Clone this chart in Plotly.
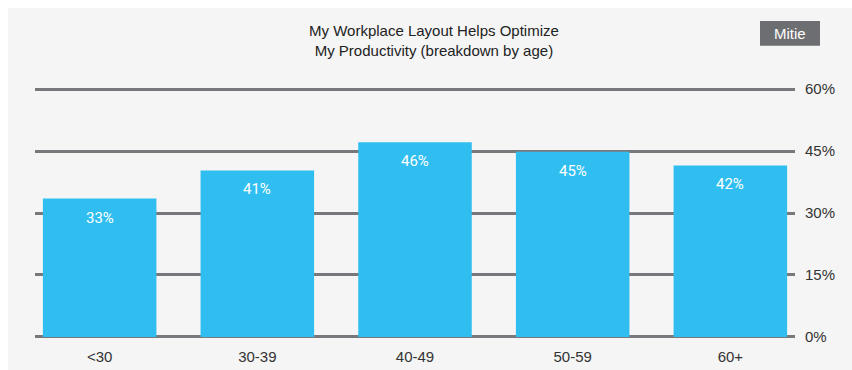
import plotly.graph_objects as go

categories = ["<30", "30-39", "40-49", "50-59", "60+"]
values = [33.5, 40.3, 47.1, 44.8, 41.5]
value_labels = ["33%", "41%", "46%", "45%", "42%"]
y_ticks = [0, 15, 30, 45, 60]
y_tick_labels = ["0%", "15%", "30%", "45%", "60%"]
title_text = "My Workplace Layout Helps Optimize<br>My Productivity (breakdown by age)"
badge_text = "Mitie"

W, H = 852, 370
ML, MR, MT, MB = 35, 57, 87, 31
PW, PH = W - ML - MR, H - MT - MB

def px(x):
    return (x - ML) / PW

def py(y):
    return (H - MB - y) / PH

BAR = "#30bef0"
GRID = "#77787b"
BG = "#f5f5f5"
FONT = "Liberation Sans"

fig = go.Figure()
fig.add_trace(go.Bar(x=categories, y=values, marker=dict(color=BAR, line=dict(width=0)),
                     width=0.72, hoverinfo="skip"))

annotations = []
for c, v, t in zip(categories, values, value_labels):
    annotations.append(dict(x=c, y=v, xref="x", yref="y", text=t, showarrow=False,
                            yanchor="top", yshift=-8,
                            font=dict(family="Roboto", size=15, color="white")))

annotations.append(dict(x=px(434), y=py(41), xref="paper", yref="paper", text=title_text,
                        showarrow=False, xanchor="center", yanchor="middle",
                        font=dict(family=FONT, size=15, color="#222222")))
annotations.append(dict(x=px(790), y=py(33.5), xref="paper", yref="paper", text=badge_text,
                        showarrow=False, xanchor="center", yanchor="middle",
                        font=dict(family=FONT, size=15, color="white")))

shapes = [
    dict(type="rect", xref="paper", yref="paper", x0=px(760), x1=px(820), y0=py(45.7), y1=py(21),
         fillcolor="#6d6e71", line=dict(width=0), layer="above"),
    dict(type="rect", xref="paper", yref="paper", x0=px(0), x1=px(W), y0=py(8), y1=py(0),
         fillcolor="white", line=dict(width=0), layer="above"),
    dict(type="rect", xref="paper", yref="paper", x0=px(0), x1=px(8), y0=py(H), y1=py(0),
         fillcolor="white", line=dict(width=0), layer="above"),
]

fig.update_layout(
    width=W, height=H,
    margin=dict(l=ML, r=MR, t=MT, b=MB, pad=0, autoexpand=False),
    paper_bgcolor=BG, plot_bgcolor=BG,
    showlegend=False,
    annotations=annotations,
    shapes=shapes,
    xaxis=dict(range=[-0.41, 4.41], showgrid=False, zeroline=False, showline=False,
               automargin=False,
               ticks="", tickfont=dict(family=FONT, size=15, color="#333333"),
               ticklabelstandoff=7, fixedrange=True),
    yaxis=dict(range=[-0.5, 60.5], side="right", tickvals=y_ticks, ticktext=y_tick_labels,
               automargin=False,
               showgrid=True, gridcolor=GRID, gridwidth=3, zeroline=False, showline=False,
               ticks="", tickfont=dict(family=FONT, size=15, color="#333333"),
               ticklabelstandoff=9, fixedrange=True),
)

fig.write_html("out.html", config={"displayModeBar": False})
